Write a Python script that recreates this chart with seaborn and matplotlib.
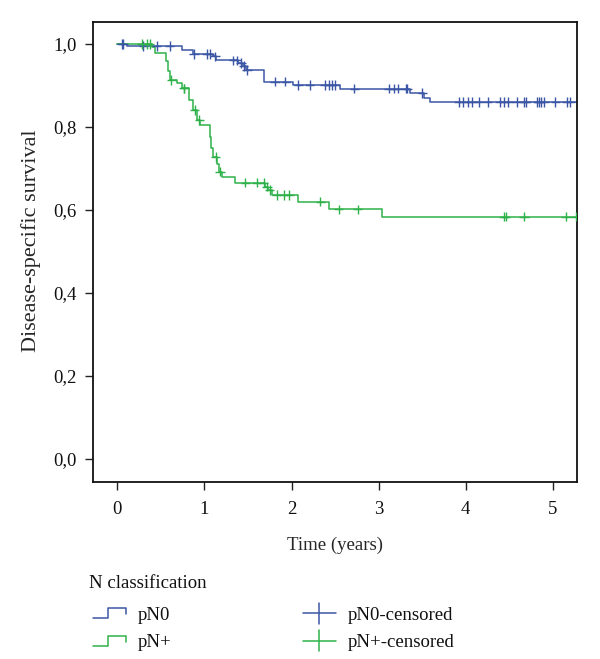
import numpy as np
import pandas as pd
import matplotlib
matplotlib.use("Agg")
import matplotlib.pyplot as plt
import seaborn as sns
from matplotlib.lines import Line2D
from matplotlib.legend_handler import HandlerBase

# ---------------- data ----------------
groups = ["pN0", "pN+"]
legend_title = "N classification"
censor_labels = ["pN0-censored", "pN+-censored"]

# pN0 step curve: event times (years) and survival after each step
pn0_time = [0.0, 0.11, 0.74, 0.87, 1.10, 1.13, 1.39, 1.44, 1.48, 1.68,
            2.02, 2.56, 3.36, 3.52, 3.59, 5.30]
pn0_surv = [1.0, 0.995, 0.986, 0.976, 0.970, 0.961, 0.954, 0.947, 0.937, 0.909,
            0.901, 0.892, 0.882, 0.870, 0.860, 0.860]
pn0_censored = [0.05, 0.07, 0.30, 0.45, 0.60, 0.88, 1.03, 1.06, 1.12, 1.33,
                1.37, 1.42, 1.45, 1.49, 1.81, 1.93, 2.08, 2.21, 2.38, 2.43,
                2.46, 2.50, 2.72, 3.12, 3.18, 3.22, 3.31, 3.33, 3.50,
                3.92, 3.97, 4.03, 4.07, 4.15, 4.25, 4.39, 4.44, 4.49, 4.59,
                4.67, 4.69, 4.82, 4.84, 4.86, 4.90, 5.03, 5.16, 5.20]

# pN+ step curve
pnp_time = [0.0, 0.40, 0.43, 0.56, 0.58, 0.60, 0.68, 0.74, 0.82, 0.87,
            0.91, 0.95, 1.06, 1.08, 1.10, 1.15, 1.17, 1.20, 1.35, 1.70,
            1.73, 1.78, 2.08, 2.43, 3.04, 5.30]
pnp_surv = [1.0, 0.993, 0.978, 0.960, 0.935, 0.913, 0.905, 0.893, 0.866, 0.841,
            0.817, 0.805, 0.777, 0.750, 0.728, 0.710, 0.692, 0.680, 0.666, 0.656,
            0.648, 0.636, 0.620, 0.602, 0.584, 0.584]
pnp_censored = [0.28, 0.34, 0.37, 0.62, 0.76, 0.77, 0.89, 0.94, 1.13, 1.18,
                1.47, 1.60, 1.68, 1.72, 1.75, 1.83, 1.91, 1.97, 2.33, 2.54,
                2.76, 4.44, 4.46, 4.67, 5.15, 5.26]

x_ticks = [0, 1, 2, 3, 4, 5]
x_tick_labels = ["0", "1", "2", "3", "4", "5"]
y_ticks = [0.0, 0.2, 0.4, 0.6, 0.8, 1.0]
y_tick_labels = ["0,0", "0,2", "0,4", "0,6", "0,8", "1,0"]
x_label = "Time (years)"
y_label = "Disease-specific survival"

# ---------------- styling ----------------
blue = "#3b56a5"
green = "#2fb14a"
palette = {"pN0": blue, "pN+": green}

sns.set_theme(style="ticks")
plt.rcParams["font.family"] = ["Liberation Serif", "DejaVu Serif"]
FS = 13.5

curves = pd.concat([
    pd.DataFrame({"time": pn0_time, "surv": pn0_surv, "group": "pN0"}),
    pd.DataFrame({"time": pnp_time, "surv": pnp_surv, "group": "pN+"}),
], ignore_index=True)


def step_value(times, survs, t):
    times = np.asarray(times)
    idx = np.searchsorted(times, t, side="right") - 1
    return np.asarray(survs)[idx]


cens = pd.concat([
    pd.DataFrame({"time": pn0_censored,
                  "surv": step_value(pn0_time, pn0_surv, pn0_censored),
                  "group": "pN0"}),
    pd.DataFrame({"time": pnp_censored,
                  "surv": step_value(pnp_time, pnp_surv, pnp_censored),
                  "group": "pN+"}),
], ignore_index=True)

fig = plt.figure(figsize=(6.0, 6.59), dpi=100)
ax = fig.add_axes([93 / 600, 1 - 482 / 659, (577 - 93) / 600, (482 - 22) / 659])

sns.lineplot(data=curves, x="time", y="surv", hue="group", palette=palette,
             estimator=None, drawstyle="steps-post", linewidth=1.1,
             legend=False, ax=ax)
sns.scatterplot(data=cens, x="time", y="surv", hue="group", palette=palette,
                marker="+", s=45, linewidth=1.0, legend=False, ax=ax, zorder=3)

ax.set_xlim(-0.279, 5.277)
ax.set_ylim(-0.0554, 1.053)
ax.set_xticks(x_ticks)
ax.set_xticklabels(x_tick_labels)
ax.set_yticks(y_ticks)
ax.set_yticklabels(y_tick_labels)
ax.set_xlabel(x_label, fontsize=FS, va="top")
ax.xaxis.set_label_coords(0.5, (482 - 537) / 460)
ax.set_ylabel(y_label, fontsize=16)
ax.yaxis.set_label_coords((41 - 93) / 484, (482 - 241) / 460)
ax.tick_params(axis="both", direction="out", length=6, width=1.0,
               labelsize=FS, color="#222222", labelcolor="#111111", pad=6)
ax.tick_params(axis="x", pad=8)
for sp in ax.spines.values():
    sp.set_linewidth(1.3)
    sp.set_color("#111111")
ax.grid(False)


# ---------------- legend ----------------
class StepHandler(HandlerBase):
    def create_artists(self, legend, orig_handle, xdescent, ydescent,
                       width, height, fontsize, trans):
        x0, y0 = -xdescent, -ydescent
        xs = [x0, x0 + 0.47 * width, x0 + 0.47 * width, x0 + width, x0 + width]
        ys = [y0 + 0.05 * height, y0 + 0.05 * height, y0 + 0.95 * height,
              y0 + 0.95 * height, y0 + 0.4 * height]
        ln = Line2D(xs, ys, color=orig_handle.get_color(), lw=1.1)
        ln.set_transform(trans)
        return [ln]


class CrossHandler(HandlerBase):
    def create_artists(self, legend, orig_handle, xdescent, ydescent,
                       width, height, fontsize, trans):
        x0, y0 = -xdescent, -ydescent
        yc = y0 + 0.5 * height
        h = Line2D([x0, x0 + width], [yc, yc], color=orig_handle.get_color(), lw=1.1)
        v = Line2D([x0 + 0.5 * width] * 2, [yc - 0.95 * height, yc + 0.95 * height],
                   color=orig_handle.get_color(), lw=1.1)
        h.set_transform(trans)
        v.set_transform(trans)
        return [h, v]


h_pn0 = Line2D([], [], color=blue)
h_pnp = Line2D([], [], color=green)
c_pn0 = Line2D([], [], color=blue)
c_pnp = Line2D([], [], color=green)
handler_map = {h_pn0: StepHandler(), h_pnp: StepHandler(),
               c_pn0: CrossHandler(), c_pnp: CrossHandler()}

fig.text(89 / 600, 1 - 583 / 659, legend_title, fontsize=FS,
         ha="left", va="center", color="#111111")
leg = fig.legend(handles=[h_pn0, h_pnp, c_pn0, c_pnp],
                 labels=[groups[0], groups[1], censor_labels[0], censor_labels[1]],
                 handler_map=handler_map, ncol=2, loc="upper left",
                 bbox_to_anchor=(93 / 600, 1 - 607 / 659),
                 frameon=False, fontsize=FS, borderpad=0,
                 borderaxespad=0, handlelength=1.75, handleheight=0.55,
                 handletextpad=0.65, columnspacing=7.0, labelspacing=0.55)
for t in leg.get_texts():
    t.set_color("#111111")

fig.savefig("out.png", dpi=100, facecolor="white")
